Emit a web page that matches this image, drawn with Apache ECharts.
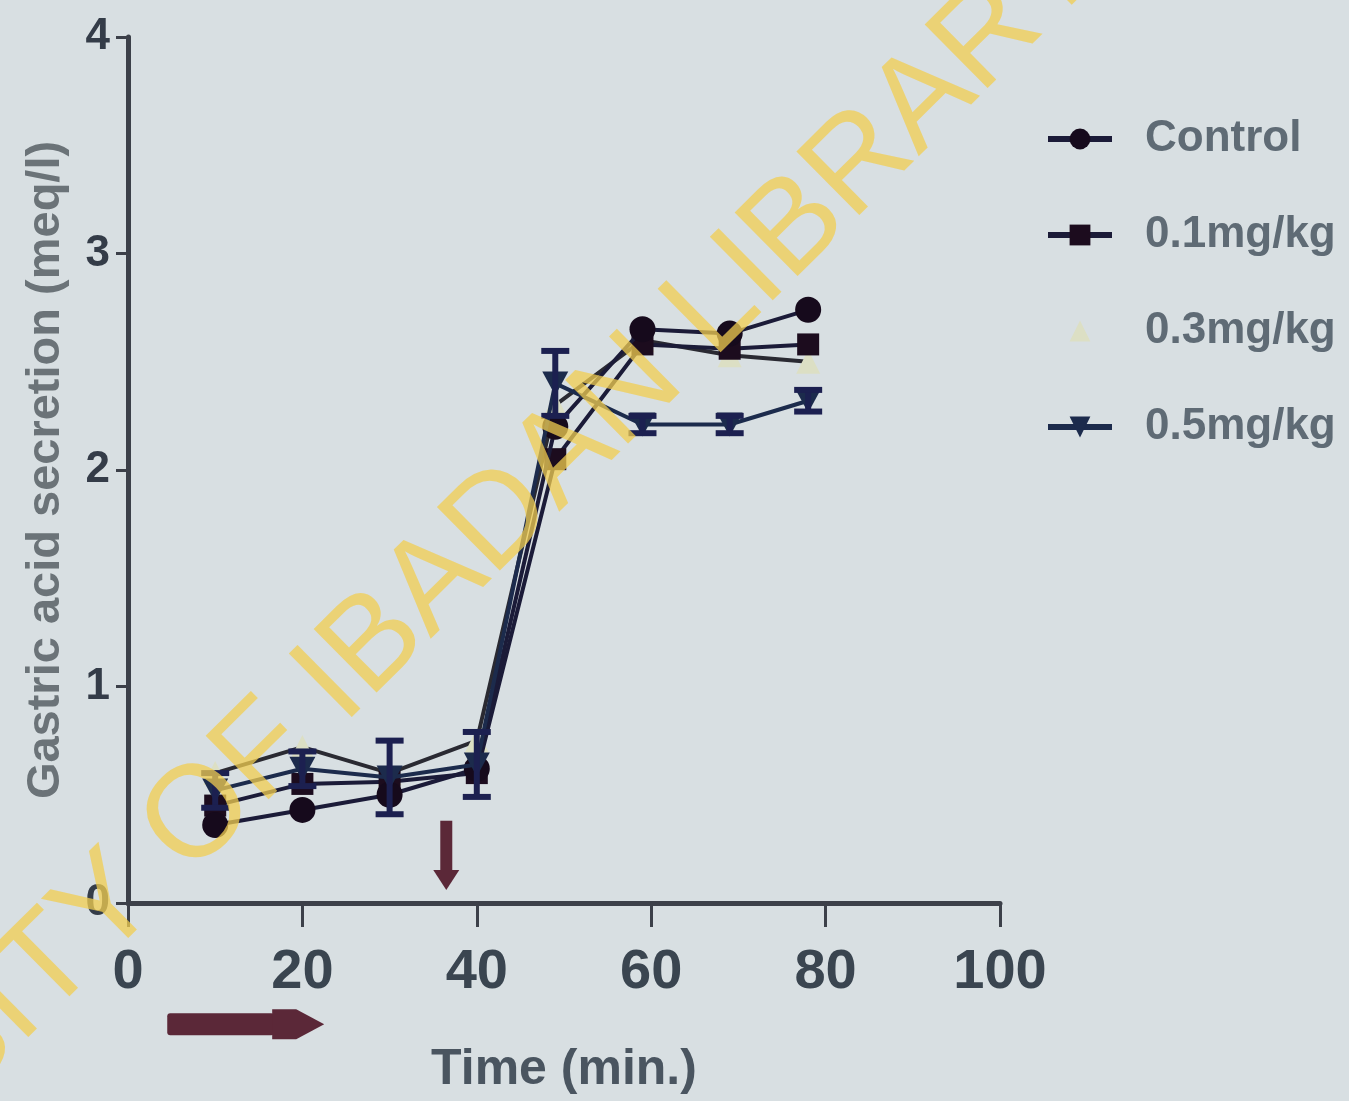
<!DOCTYPE html>
<html>
<head>
<meta charset="utf-8">
<script src="https://cdn.jsdelivr.net/npm/echarts@6/dist/echarts.min.js"></script>
<style>
  html, body { margin: 0; padding: 0; background: #d8dfe2; }
  #chart { width: 1349px; height: 1101px; }
</style>
</head>
<body>
<div id="chart"></div>
<script>
// time points (min.)
const times = [10, 20, 30, 40, 49, 59, 69, 78]
const seriesNames = ['Control', '0.1mg/kg', '0.3mg/kg', '0.5mg/kg']

// gastric acid secretion (meq/l)
const control = [0.36, 0.43, 0.50, 0.62, 2.20, 2.65, 2.63, 2.74]
const dose01 = [0.45, 0.55, 0.56, 0.60, 2.05, 2.58, 2.56, 2.58]
const dose03 = [0.60, 0.72, 0.60, 0.75, 2.30, 2.60, 2.53, 2.50]
const dose05 = [0.52, 0.62, 0.58, 0.64, 2.40, 2.21, 2.21, 2.32]
const dose05Err = [0.08, 0.08, 0.17, 0.15, 0.15, 0.04, 0.04, 0.05]

const xTicks = [0, 20, 40, 60, 80, 100]
const yTicks = [0, 1, 2, 3, 4]

const lineColor = '#1b1b38'
const axisColor = '#3c4049'
const font = '"Liberation Sans", Arial, sans-serif'

const chart = echarts.init(document.getElementById('chart'))

const pair = (ys) => times.map((t, i) => [t, ys[i]])

chart.setOption({
  backgroundColor: '#d8dfe2',
  animation: false,
  grid: { left: 128, right: 349, top: 37, bottom: 198 },
  legend: {
    orient: 'vertical',
    left: 1040,
    top: 112,
    itemGap: 52,
    itemWidth: 64,
    itemHeight: 26,
    lineStyle: { width: 6 },
    textStyle: { fontFamily: font, fontSize: 44, fontWeight: 'bold', color: '#5f6b75', padding: [0, 0, 0, 28] },
    data: [
      { name: 'Control' },
      { name: '0.1mg/kg' },
      { name: '0.3mg/kg', lineStyle: { opacity: 0 } },
      { name: '0.5mg/kg', itemStyle: { color: '#1c2b4c' }, lineStyle: { color: '#1c2b4c' } }
    ]
  },
  xAxis: {
    type: 'value',
    min: 0,
    max: 100,
    interval: 20,
    name: 'Time (min.)',
    nameLocation: 'middle',
    nameGap: 142,
    nameTextStyle: { fontFamily: font, fontSize: 50, fontWeight: 'bold', color: '#4a5560' },
    axisLine: { lineStyle: { color: axisColor, width: 5 } },
    axisTick: { inside: false, length: 24, lineStyle: { color: axisColor, width: 3 } },
    axisLabel: {
      margin: 42,
      fontFamily: font, fontSize: 56, fontWeight: 'bold', color: '#3a4550',
      formatter: (v) => xTicks.includes(v) ? String(v) : ''
    },
    splitLine: { show: false }
  },
  yAxis: {
    type: 'value',
    min: 0,
    max: 4,
    interval: 1,
    name: 'Gastric acid secretion (meq/l)',
    nameLocation: 'middle',
    nameGap: 58,
    nameTextStyle: { fontFamily: font, fontSize: 47, fontWeight: 'bold', color: '#6b7378' },
    axisLine: { show: true, lineStyle: { color: axisColor, width: 5 } },
    axisTick: { show: true, length: 12, lineStyle: { color: axisColor, width: 3 } },
    axisLabel: {
      margin: 18,
      fontFamily: font, fontSize: 44, fontWeight: 'bold', color: '#343c48',
      formatter: (v) => yTicks.includes(v) ? String(v) : ''
    },
    splitLine: { show: false }
  },
  series: [
    {
      name: 'Control', type: 'line', data: pair(control),
      symbol: 'circle', symbolSize: 26,
      itemStyle: { color: '#160a1c' },
      lineStyle: { color: lineColor, width: 4 },
      z: 5
    },
    {
      name: '0.1mg/kg', type: 'line', data: pair(dose01),
      symbol: 'rect', symbolSize: 22,
      itemStyle: { color: '#1c0c1e' },
      lineStyle: { color: lineColor, width: 4 },
      z: 4
    },
    {
      name: '0.3mg/kg', type: 'line', data: pair(dose03),
      symbol: 'triangle', symbolSize: 24,
      itemStyle: { color: '#dcdfc4' },
      lineStyle: { color: '#2a2a32', width: 4 },
      z: 3
    },
    {
      name: '0.5mg/kg', type: 'line', data: pair(dose05),
      symbol: 'path://M0,0 L10,0 L5,10 Z', symbolSize: [26, 24],
      itemStyle: { color: '#1c2b4c' },
      lineStyle: { color: '#1c2b4c', width: 4 },
      z: 6
    },
    {
      name: 'err05', type: 'custom',
      data: times.map((t, i) => [t, dose05[i] - dose05Err[i], dose05[i] + dose05Err[i]]),
      renderItem: (params, api) => {
        const lo = api.coord([api.value(0), api.value(1)])
        const hi = api.coord([api.value(0), api.value(2)])
        const w = 14
        const st = { stroke: '#1c2050', lineWidth: 6 }
        return {
          type: 'group',
          children: [
            { type: 'line', shape: { x1: lo[0], y1: lo[1], x2: hi[0], y2: hi[1] }, style: st },
            { type: 'line', shape: { x1: lo[0] - w, y1: lo[1], x2: lo[0] + w, y2: lo[1] }, style: st },
            { type: 'line', shape: { x1: hi[0] - w, y1: hi[1], x2: hi[0] + w, y2: hi[1] }, style: st }
          ]
        }
      },
      z: 7
    }
  ]
})

// annotation arrows, placed through the axes
const down = chart.convertToPixel({ gridIndex: 0 }, [36.5, 0.38])
const downTip = chart.convertToPixel({ gridIndex: 0 }, [36.5, 0.06])
const hStart = chart.convertToPixel({ gridIndex: 0 }, [4.5, -0.56])
const hEnd = chart.convertToPixel({ gridIndex: 0 }, [22.5, -0.56])
const arrowColor = '#5b2838'
const wmStyle = { fontSize: 130, fontFamily: font, fill: 'rgba(242,205,80,0.75)', verticalAlign: 'middle' }

chart.setOption({
  graphic: [
    {
      type: 'rect', shape: { x: down[0] - 6, y: down[1], width: 12, height: downTip[1] - down[1] - 16 },
      style: { fill: arrowColor }, z: 10
    },
    {
      type: 'polygon',
      shape: { points: [[down[0] - 13, downTip[1] - 20], [down[0] + 13, downTip[1] - 20], [down[0], downTip[1]]] },
      style: { fill: arrowColor }, z: 10
    },
    {
      type: 'rect', shape: { x: hStart[0], y: hStart[1] - 11, width: hEnd[0] - hStart[0] - 50, height: 22, r: 3 },
      style: { fill: arrowColor }, z: 10
    },
    {
      type: 'polygon',
      shape: { points: [[hEnd[0] - 52, hStart[1] - 15], [hEnd[0] - 28, hStart[1] - 15], [hEnd[0], hStart[1]], [hEnd[0] - 28, hStart[1] + 15], [hEnd[0] - 52, hStart[1] + 15]] },
      style: { fill: arrowColor }, z: 10
    },
    {
      type: 'text', x: 318, y: 700, rotation: 0.78,
      style: Object.assign({ text: 'IBADAN LIBRARY', align: 'left' }, wmStyle),
      z: 20, silent: true
    },
    {
      type: 'text', x: 318, y: 700, rotation: 0.78,
      style: Object.assign({ text: 'UNIVERSITY OF ', align: 'right' }, wmStyle),
      z: 20, silent: true
    }
  ]
})
</script>
</body>
</html>
